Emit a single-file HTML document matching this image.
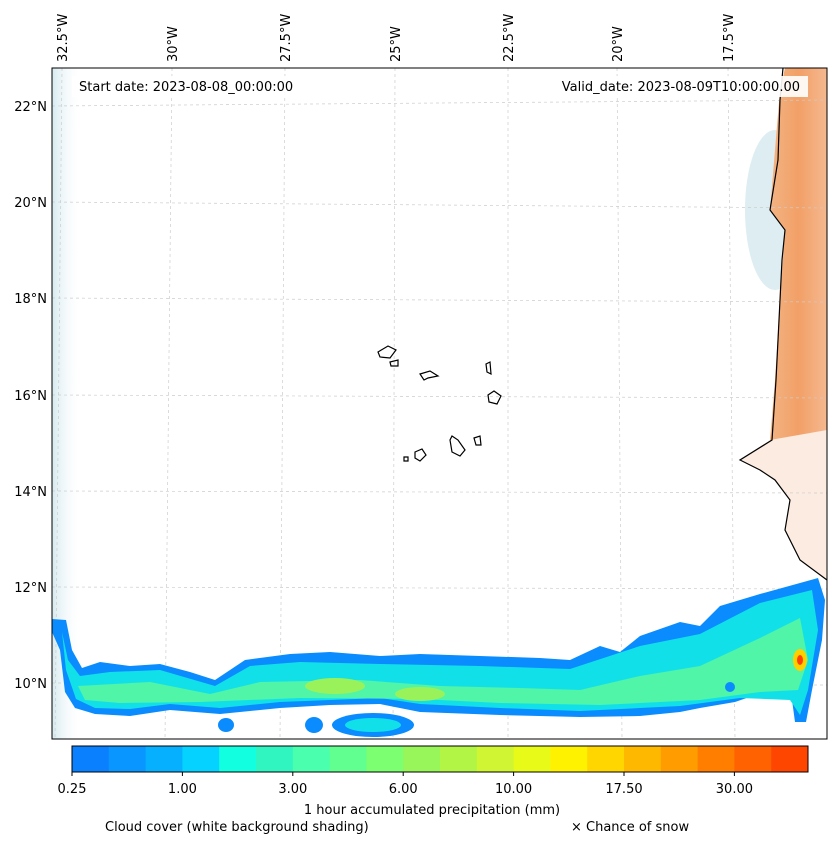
<!DOCTYPE html>
<html><head><meta charset="utf-8"><style>
body{margin:0;background:#fff;font-family:"Liberation Sans","DejaVu Sans",sans-serif}
svg text{font-family:"DejaVu Sans","Liberation Sans",sans-serif;font-size:13px;fill:#000}
</style></head><body>
<svg width="837" height="844" viewBox="0 0 837 844">
<defs>
<clipPath id="mapclip"><rect x="52" y="68" width="775" height="671"/></clipPath>
<linearGradient id="cloudL" x1="0" x2="1"><stop offset="0" stop-color="#d6eaf0"/><stop offset="1" stop-color="#fff" stop-opacity="0"/></linearGradient>
<linearGradient id="landG" x1="0" x2="1"><stop offset="0" stop-color="#f3b384"/><stop offset="0.5" stop-color="#f2a066"/><stop offset="1" stop-color="#f5b890"/></linearGradient>
</defs>
<g clip-path="url(#mapclip)">
<rect x="52" y="68" width="775" height="671" fill="#fff"/>
<rect x="52" y="68" width="30" height="671" fill="url(#cloudL)"/>
<ellipse cx="775" cy="210" rx="30" ry="80" fill="#d4e8ef" opacity="0.8"/>
<path d="M785,68 L827,68 L827,430 L800,440 L790,460 L770,440 L775,380 L780,300 L785,230 L770,210 L775,150 L780,90 Z" fill="url(#landG)"/>
<path d="M770,440 L827,430 L827,580 L800,560 L785,530 L790,500 L775,480 L760,470 L740,460 Z" fill="#fcebe0"/>
<g stroke="#ccc" stroke-dasharray="3,3" stroke-width="0.7">
<line x1="52" y1="106" x2="827" y2="100"/><line x1="52" y1="202" x2="827" y2="208"/><line x1="52" y1="298" x2="827" y2="302"/><line x1="52" y1="395" x2="827" y2="398"/><line x1="52" y1="491" x2="827" y2="493"/><line x1="52" y1="587" x2="827" y2="589"/><line x1="52" y1="683" x2="827" y2="685"/>
<line x1="62" y1="68" x2="55" y2="739"/><line x1="172" y1="68" x2="165" y2="739"/><line x1="285" y1="68" x2="280" y2="739"/><line x1="395" y1="68" x2="393" y2="739"/><line x1="508" y1="68" x2="508" y2="739"/><line x1="617" y1="68" x2="622" y2="739"/><line x1="728" y1="68" x2="735" y2="739"/>
</g>
<path d="M52,619 L66,620 L72,650 L82,668 L100,662 L130,666 L160,664 L190,672 L215,680 L245,660 L290,654 L330,652 L380,656 L420,654 L480,656 L540,658 L570,660 L600,646 L620,652 L640,636 L680,622 L700,626 L720,606 L760,594 L800,583 L818,578 L825,600 L822,640 L812,690 L806,722 L795,722 L792,700 L770,690 L735,702 L700,708 L680,712 L640,716 L580,717 L500,715 L420,712 L380,704 L330,705 L280,708 L220,714 L170,710 L130,716 L95,714 L75,708 L65,692 L60,650 L52,632 Z" fill="#0a8cff"/>
<path d="M62,632 L68,660 L80,676 L110,672 L160,670 L215,686 L250,666 L300,662 L380,664 L480,666 L570,669 L640,646 L700,634 L760,603 L812,590 L818,630 L808,690 L800,715 L790,700 L740,698 L680,706 L580,711 L500,708 L420,704 L380,698 L330,700 L280,702 L220,708 L170,704 L130,709 L95,708 L76,699 L66,670 Z" fill="#12e0e8"/>
<path d="M78,686 L150,682 L210,694 L260,682 L360,680 L440,686 L520,688 L580,690 L640,676 L700,666 L760,638 L800,618 L808,660 L798,690 L760,692 L700,700 L600,705 L500,703 L420,699 L300,698 L200,702 L120,703 L85,700 Z" fill="#50f5a8"/>
<ellipse cx="335" cy="686" rx="30" ry="8" fill="#9af25a"/>
<ellipse cx="420" cy="694" rx="25" ry="7" fill="#9af25a"/>
<ellipse cx="800" cy="660" rx="7" ry="11" fill="#ffd000"/>
<ellipse cx="800" cy="660" rx="3" ry="5" fill="#ff4000"/>
<ellipse cx="373" cy="725" rx="41" ry="12" fill="#0a8cff"/>
<ellipse cx="373" cy="725" rx="28" ry="7" fill="#12e0e8"/>
<ellipse cx="226" cy="725" rx="8" ry="7" fill="#0a8cff"/>
<ellipse cx="314" cy="725" rx="9" ry="8" fill="#0a8cff"/>
<ellipse cx="730" cy="687" rx="5" ry="5" fill="#0a8cff"/>
<g fill="none" stroke="#000" stroke-width="1.2">
<path d="M783,68 L780,100 L778,160 L770,210 L785,230 L782,260 L780,300 L776,380 L772,440 L740,460 L760,470 L775,480 L790,500 L785,530 L800,560 L827,580"/>
<path d="M378,352 L388,346 L396,350 L390,358 L380,357 Z"/>
<path d="M390,362 L398,360 L398,366 L391,366 Z"/>
<path d="M420,374 L430,371 L438,376 L428,378 L424,380 Z"/>
<path d="M486,364 L490,362 L491,374 L487,372 Z"/>
<path d="M488,395 L494,391 L501,396 L497,404 L489,402 Z"/>
<path d="M452,436 L458,440 L465,450 L460,456 L452,452 L450,440 Z"/>
<path d="M474,438 L480,436 L481,445 L476,445 Z"/>
<path d="M415,452 L422,449 L426,455 L420,461 L415,458 Z"/>
<path d="M404,457 L408,457 L408,461 L404,461 Z"/>
</g>
<rect x="72" y="76" width="260" height="21" fill="#fff" opacity="0.9"/>
<text x="79" y="91">Start date: 2023-08-08_00:00:00</text>
<rect x="538" y="76" width="270" height="21" fill="#fff" opacity="0.9"/>
<text x="800" y="91" text-anchor="end">Valid_date: 2023-08-09T10:00:00.00</text>
</g>
<rect x="52" y="68" width="775" height="671" fill="none" stroke="#000" stroke-width="1"/>
<g text-anchor="end">
<text x="47" y="111">22°N</text><text x="47" y="207">20°N</text><text x="47" y="303">18°N</text><text x="47" y="400">16°N</text><text x="47" y="496">14°N</text><text x="47" y="592">12°N</text><text x="47" y="688">10°N</text>
</g>
<g>
<text transform="translate(67,62) rotate(-90)">32.5°W</text>
<text transform="translate(177,62) rotate(-90)">30°W</text>
<text transform="translate(290,62) rotate(-90)">27.5°W</text>
<text transform="translate(400,62) rotate(-90)">25°W</text>
<text transform="translate(513,62) rotate(-90)">22.5°W</text>
<text transform="translate(622,62) rotate(-90)">20°W</text>
<text transform="translate(733,62) rotate(-90)">17.5°W</text>
</g>
<g id="cbar"></g>
<text x="432" y="814" text-anchor="middle">1 hour accumulated precipitation (mm)</text>
<text x="105" y="831">Cloud cover (white background shading)</text>
<text x="571" y="831">× Chance of snow</text>
</svg>
<script>
const cbColors=["#0a80ff","#0a96ff","#07b0ff","#05d2ff","#12ffe0","#30f5c0","#4affae","#60ff90","#7cff70","#98f55a","#b2f545","#cff533","#e8fb18","#fff200","#ffd600","#ffb800","#ff9c00","#ff7e00","#ff6200","#ff4600"];
const cbTicks=["0.25","1.00","3.00","6.00","10.00","17.50","30.00"];
const g=document.getElementById('cbar');
const ns="http://www.w3.org/2000/svg";
const x0=72,w=736,bw=w/cbColors.length;
cbColors.forEach((c,i)=>{const r=document.createElementNS(ns,'rect');
r.setAttribute('x',x0+i*bw);r.setAttribute('y',746);r.setAttribute('width',bw+0.5);r.setAttribute('height',26);r.setAttribute('fill',c);


g.appendChild(r);});
const fr=document.createElementNS(ns,'rect');fr.setAttribute('x',x0);fr.setAttribute('y',746);fr.setAttribute('width',w);fr.setAttribute('height',26);fr.setAttribute('fill','none');fr.setAttribute('stroke','#000');


g.appendChild(fr);
cbTicks.forEach((t,i)=>{const x=x0+i*3*bw;
const l=document.createElementNS(ns,'line');l.setAttribute('x1',x);l.setAttribute('x2',x);l.setAttribute('y1',772);l.setAttribute('y2',776);l.setAttribute('stroke','#000');


g.appendChild(l);
const tx=document.createElementNS(ns,'text');tx.setAttribute('x',x);tx.setAttribute('y',793);tx.setAttribute('text-anchor','middle');tx.textContent=t;


g.appendChild(tx);});
</script>
</body></html>
